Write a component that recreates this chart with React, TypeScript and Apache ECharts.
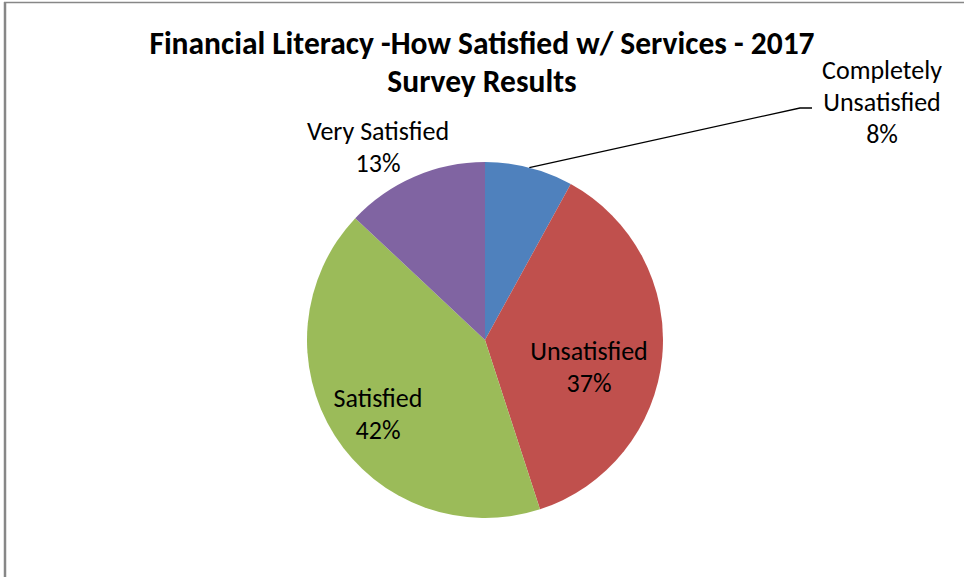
import React, { useEffect, useRef } from 'react';
import * as echarts from 'echarts';

const titleLines = ['Financial Literacy -How Satisfied w/ Services - 2017', 'Survey Results'];
const categories = ['Completely Unsatisfied', 'Unsatisfied', 'Satisfied', 'Very Satisfied'];
const labelNames = ['Completely\nUnsatisfied', 'Unsatisfied', 'Satisfied', 'Very Satisfied'];
const percents = [8, 37, 42, 13];
const colors = ['#4F81BD', '#C0504D', '#9BBB59', '#8064A2'];

const FONT = 'Carlito, Calibri, Lato, "Noto Sans", sans-serif';

export default function App() {
  const ref = useRef<HTMLDivElement>(null);
  useEffect(() => {
    if (!ref.current) return;
    const chart = echarts.init(ref.current, undefined, { renderer: 'svg' });
    const labelPos: number[][] = [
      [882, 102],
      [589, 367],
      [378, 414],
      [378, 147],
    ];
    chart.setOption({
      animation: false,
      backgroundColor: '#ffffff',
      title: {
        text: titleLines.join('\n'),
        left: 'center',
        top: 24,
        padding: 0,
        textStyle: {
          fontFamily: FONT,
          fontWeight: 'bold',
          fontSize: 31.5,
          lineHeight: 38,
          color: '#000000',
          align: 'center',
        },
      },
      graphic: [
        { type: 'line', shape: { x1: 5, y1: 2, x2: 5, y2: 577 }, style: { stroke: '#878787', lineWidth: 2.5 }, silent: true },
        { type: 'line', shape: { x1: 4, y1: 2.5, x2: 964, y2: 2.5 }, style: { stroke: '#878787', lineWidth: 1.5 }, silent: true },
      ],
      series: [
        {
          type: 'pie',
          center: [485, 340],
          radius: 178,
          startAngle: 90,
          clockwise: true,
          avoidLabelOverlap: false,
          itemStyle: { borderWidth: 0 },
          label: {
            fontFamily: FONT,
            fontSize: 26,
            lineHeight: 32,
            color: '#000000',
            formatter: (p: any) => labelNames[p.dataIndex] + '\n' + p.value + '%',
          },
          labelLine: { show: true, lineStyle: { color: '#000000', width: 1.3 }, length: 20, length2: 10 },
          labelLayout: (params: any) => {
            const i = params.dataIndex;
            const pos = labelPos[i];
            const res: any = { x: pos[0], y: pos[1], align: 'center', verticalAlign: 'middle' };
            if (i === 0) {
              const start = params.labelLinePoints && params.labelLinePoints[0]
                ? params.labelLinePoints[0]
                : [529, 168];
              res.labelLinePoints = [start, [800, 108], [812, 108]];
            }
            return res;
          },
          data: categories.map((name, i) => ({
            name,
            value: percents[i],
            itemStyle: { color: colors[i] },
            label: { position: i === 1 || i === 2 ? 'inside' : 'outside' },
            labelLine: { show: i === 0 },
          })),
        },
      ],
    });
    return () => chart.dispose();
  }, []);
  return <div ref={ref} style={{ position: 'fixed', left: 0, top: 0, width: 964, height: 577 }} />;
}
